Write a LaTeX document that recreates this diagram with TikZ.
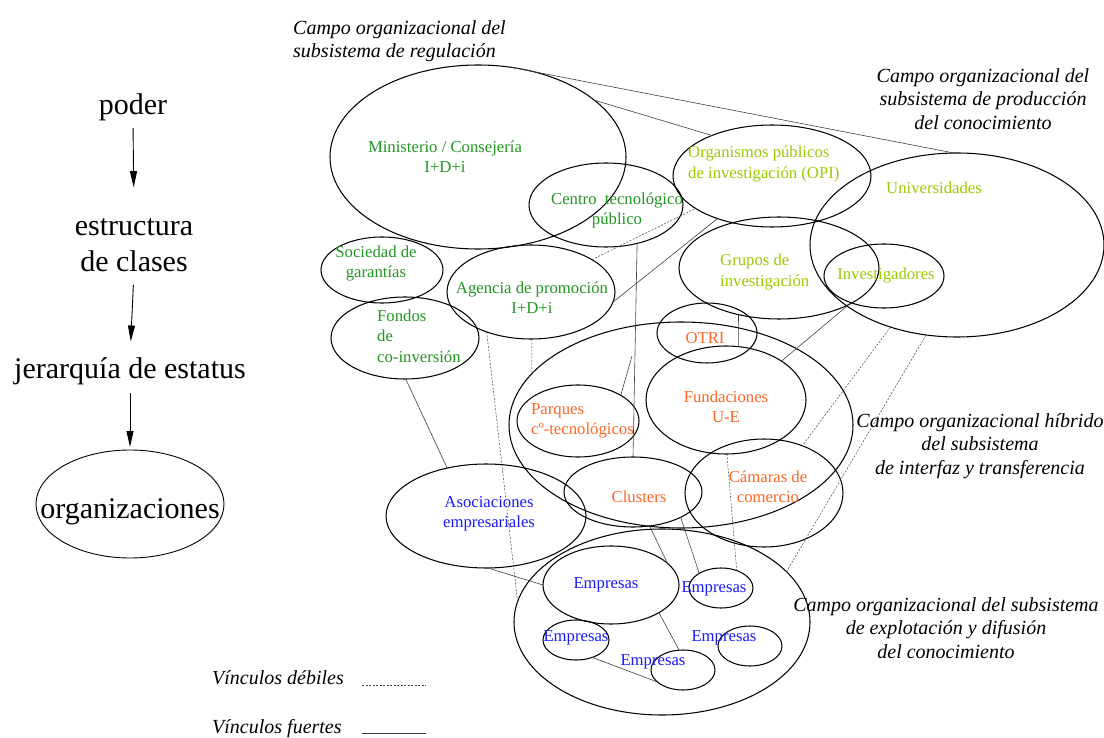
\documentclass[tikz,border=0pt]{standalone}
\usepackage{fontspec}
\setmainfont{Liberation Serif}
\usetikzlibrary{shapes.geometric,arrows.meta}
\definecolor{regGreen}{RGB}{34,150,34}
\definecolor{prodLime}{RGB}{153,204,0}
\definecolor{hybOrange}{RGB}{255,102,34}
\definecolor{expBlue}{RGB}{26,26,255}
\begin{document}
\begin{tikzpicture}[x=1pt,y=-1pt,
  field/.style={ellipse, draw=black, line width=1.05pt, inner sep=0pt, outer sep=0pt},
  lbl/.style={font=\fontsize{16.7}{20}\selectfont, inner sep=0pt, align=center},
  lbll/.style={font=\fontsize{16.7}{20.5}\selectfont, inner sep=0pt, align=left, anchor=west},
  big/.style={font=\fontsize{30}{36}\selectfont, inner sep=0pt, align=center},
  campo/.style={font=\fontsize{20}{23.5}\selectfont\itshape, inner sep=0pt, align=center},
  strong/.style={draw=black!75, line width=0.6pt},
  weak/.style={draw=black!75, line width=0.5pt, dash pattern=on 2pt off 1.5pt},
  arr/.style={draw=black, line width=0.9pt, -{Triangle[length=16pt,width=7pt]}}
]
\path[use as bounding box] (0,0) rectangle (1104,738);

% ---------- left column: from power to organisations ----------
\node[big, anchor=base] (poder) at (133,115) {poder};
\node[big] (estr) at (134,245) {estructura\\de clases};
\node[big, anchor=base] (jer) at (130,378.5) {jerarquía de estatus};
\node[field, line width=0.9pt, minimum width=188pt, minimum height=108pt] (orgs) at (130,504) {};
\node[big, anchor=base] (torgs) at (130,518) {organizaciones};
\draw[arr, shorten <=6.5pt, shorten >=31pt] (poder.south) -- (estr.north);
\draw[arr, shorten <=13pt, shorten >=16pt] (estr.south) -- (jer.north);
\draw[arr, shorten <=8pt, shorten >=3pt] (jer.south) -- (orgs.north);

% ---------- regulation subsystem ----------
\node[field, minimum width=296pt, minimum height=184pt] (mini) at (478,157) {};
\node[field, minimum width=154pt, minimum height=84pt] (centro) at (606,205) {};
\node[field, minimum width=122pt, minimum height=66pt] (socied) at (382,270) {};
\node[field, minimum width=168pt, minimum height=94pt] (agencia) at (531,292) {};
\node[field, minimum width=148pt, minimum height=82pt] (fondos) at (405,338) {};

% ---------- knowledge production subsystem ----------
\node[field, minimum width=198pt, minimum height=102pt] (opi) at (772,176) {};
\node[field, minimum width=294pt, minimum height=184pt] (univ) at (957,245) {};
\node[field, minimum width=200pt, minimum height=102pt] (grupos) at (779,268) {};
\node[field, minimum width=120pt, minimum height=64pt] (invest) at (884,276) {};

% ---------- interface and transfer subsystem ----------
\node[field, minimum width=344pt, minimum height=206pt] (hibrido) at (681,425) {};
\node[field, minimum width=100pt, minimum height=60pt] (otri) at (707,333) {};
\node[field, minimum width=122pt, minimum height=72pt] (parques) at (578,421) {};
\node[field, minimum width=160pt, minimum height=108pt] (fundac) at (726,400) {};
\node[field, minimum width=138pt, minimum height=70pt] (clusters) at (633,492) {};
\node[field, minimum width=158pt, minimum height=108pt] (camaras) at (764,493) {};

% ---------- exploitation and diffusion subsystem ----------
\node[field, minimum width=200pt, minimum height=104pt] (asoc) at (486,516) {};
\node[field, minimum width=296pt, minimum height=186pt] (explot) at (662,622) {};
\node[field, minimum width=136pt, minimum height=78pt] (empA) at (611,585) {};
\node[field, minimum width=64pt, minimum height=40pt] (empB) at (721,588) {};
\node[field, minimum width=66pt, minimum height=40pt] (empC) at (576,640) {};
\node[field, minimum width=64pt, minimum height=40pt] (empD) at (683,670) {};
\node[field, minimum width=64pt, minimum height=40pt] (empE) at (750,646) {};

% ---------- labels inside the fields ----------
\node[lbl, text=regGreen] (tmini) at (445,157) {Ministerio / Consejería\\I+D+i};
\node[lbl, text=regGreen] (tcentro) at (617,210) {Centro~ tecnológico\\público};
\node[lbl, text=regGreen] (tsocied) at (376,264) {Sociedad de\\garantías};
\node[lbl, text=regGreen] (tagencia) at (532,298) {Agencia de promoción\\I+D+i};
\node[lbll, text=regGreen] (tfondos) at (377,336) {Fondos\\de\\co-inversión};

\node[lbll, text=prodLime] (topi) at (688,164) {Organismos públicos\\de investigación (OPI)};
\node[lbl, text=prodLime] (tuniv) at (934,188) {Universidades};
\node[lbll, text=prodLime] (tgrupos) at (720,272) {Grupos de\\investigación};
\node[lbl, text=prodLime] (tinvest) at (886,276) {Investigadores};

\node[lbl, text=hybOrange] (totri) at (705,338) {OTRI};
\node[lbll, text=hybOrange] (tparques) at (531,421) {Parques\\cº-tecnológicos};
\node[lbl, text=hybOrange] (tfundac) at (726,407) {Fundaciones\\U-E};
\node[lbl, text=hybOrange] (tclusters) at (639,497) {Clusters};
\node[lbl, text=hybOrange] (tcamaras) at (768,487) {Cámaras de\\comercio};

\node[lbl, text=expBlue] (tasoc) at (489,514) {Asociaciones\\empresariales};
\node[lbl, text=expBlue] (tempA) at (606,585) {Empresas};
\node[lbl, text=expBlue] (tempB) at (714,589) {Empresas};
\node[lbl, text=expBlue] (tempC) at (576,638) {Empresas};
\node[lbl, text=expBlue] (tempD) at (653,662) {Empresas};
\node[lbl, text=expBlue] (tempE) at (724,638) {Empresas};

% ---------- field titles ----------
\node[campo, align=left, anchor=west] (creg) at (293,41) {Campo organizacional del\\subsistema de regulación};
\node[campo] (cprod) at (983,99) {Campo organizacional del\\subsistema de producción\\del conocimiento};
\node[campo] (chib) at (980,446) {Campo organizacional híbrido\\del subsistema\\de interfaz y transferencia};
\node[campo] (cexp) at (946,628) {Campo organizacional del subsistema\\de explotación y difusión\\del conocimiento};

% ---------- strong links ----------
\draw[strong] (mini.69) -- (univ.92);
\draw[strong] (mini.26) -- (opi.146);
\draw[strong] (agencia.-7) -- (opi.218);
\draw[strong] (centro.-51) -- (clusters.90);
\coordinate (parqEnd) at (632,356);
\draw[strong] (parques.31) -- (parqEnd);
\draw[strong] (grupos.229) -- (fundac.77);
\draw[strong] (fundac.35) -- (invest.219);
\draw[strong] (fondos.-89) -- (asoc.129);
\draw[strong] (asoc.-88) -- (empA.180);
\draw[strong] (clusters.-64) -- (empA.21);
\draw[strong] (clusters.-28) -- (empB.146);
\draw[strong] (empA.-30) -- (empD.101);
\draw[strong] (empC.-47) -- (empD.205);

% ---------- weak links ----------
\draw[weak] (agencia.28) -- (opi.203);
\draw[weak] (agencia.222) -- (explot.172);
\draw[weak] (agencia.-89) -- (hibrido.161);
\draw[weak] (fundac.-89) -- (empB.48);
\draw[weak] (univ.231) -- (camaras.51);
\draw[weak] (univ.251) -- (explot.22);

% ---------- legend ----------
\node[campo, anchor=west] (lweak) at (212,678) {Vínculos débiles};
\node[campo, anchor=west] (lstrong) at (212,729) {Vínculos fuertes};
\coordinate (wA) at (362,685);
\coordinate (wB) at (426,685);
\coordinate (sA) at (362,733);
\coordinate (sB) at (426,733);
\draw[weak] (wA) -- (wB);
\draw[strong, line width=0.8pt] (sA) -- (sB);
\end{tikzpicture}
\end{document}
